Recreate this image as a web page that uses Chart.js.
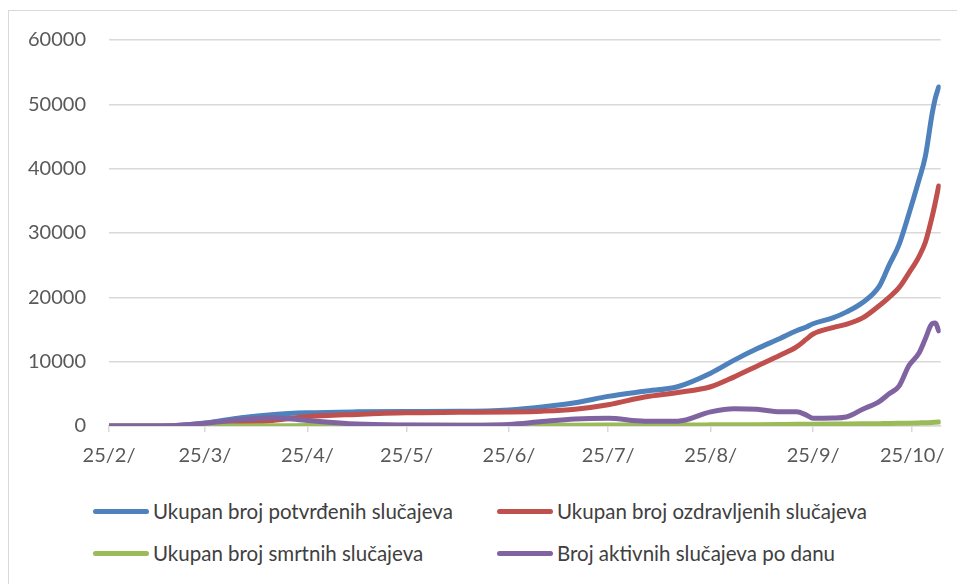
<!DOCTYPE html>
<html>
<head>
<meta charset="utf-8">
<script src="https://cdn.jsdelivr.net/npm/chart.js@4/dist/chart.umd.min.js"></script>
<style>
  body { margin: 0; background: #fff; width: 957px; height: 584px; overflow: hidden; position: relative; font-family: Lato, "Liberation Sans", sans-serif; }
  #frame { position: absolute; left: 8px; top: 10px; width: 960px; height: 600px; border: 1px solid #d9d9d9; }
  #chart { position: absolute; left: 0; top: 0; }
  .legend-item { position: absolute; display: flex; align-items: center; font-size: 20.5px; color: #404040; white-space: nowrap; }
  .legend-item span.swatch { display: inline-block; width: 56px; height: 5px; border-radius: 3px; margin-right: 4px; }
</style>
</head>
<body>
<div id="frame"></div>
<canvas id="chart" width="957" height="480"></canvas>
<div id="legend"></div>
<script>
// sample dates (2020) and values
const dates = [
  "2020-02-25", "2020-03-05", "2020-03-15", "2020-03-25", "2020-04-05", "2020-04-15",
  "2020-04-25", "2020-05-10", "2020-05-25", "2020-06-10", "2020-06-25", "2020-07-05",
  "2020-07-15", "2020-07-25", "2020-08-05", "2020-08-15", "2020-08-25", "2020-09-01",
  "2020-09-08", "2020-09-15", "2020-09-20", "2020-09-23", "2020-09-25", "2020-10-01",
  "2020-10-05", "2020-10-10", "2020-10-15", "2020-10-18", "2020-10-21", "2020-10-24",
  "2020-10-27", "2020-10-29", "2020-10-31", "2020-11-01", "2020-11-02"
];
const confirmed = [
  0, 5, 50, 450, 1300, 1800, 2050, 2200, 2250, 2280, 2500, 2950,
  3600, 4600, 5400, 6100, 8200, 10200, 12000, 13600, 14800, 15400, 15900, 16800,
  17700, 19200, 21700, 25000, 28200, 33000, 38200, 42000, 48500, 51000, 52700
];
const recovered = [
  0, 0, 0, 30, 350, 900, 1450, 1800, 2050, 2120, 2180, 2300,
  2600, 3300, 4500, 5200, 6100, 7600, 9300, 11000, 12300, 13500, 14300, 15300,
  15800, 16800, 18700, 20000, 21500, 23800, 26300, 28600, 32500, 34800, 37300
];
const deaths = [
  0, 0, 0, 3, 15, 40, 60, 90, 100, 105, 107, 112,
  120, 140, 160, 170, 175, 190, 210, 240, 265, 275, 280, 300,
  315, 335, 365, 385, 410, 440, 480, 510, 560, 590, 620
];
const active = [
  0, 5, 50, 420, 1000, 1300, 850, 300, 150, 120, 250, 700,
  1100, 1200, 750, 750, 2200, 2700, 2600, 2200, 2200, 1700, 1200, 1250,
  1400, 2600, 3800, 5000, 6200, 9400, 11300, 13600, 15900, 16000, 14800
];
const seriesNames = [
  "Ukupan broj potvrđenih slučajeva",
  "Ukupan broj ozdravljenih slučajeva",
  "Ukupan broj smrtnih slučajeva",
  "Broj aktivnih slučajeva po danu"
];
const seriesColors = ["#4F81BD", "#C0504D", "#9BBB59", "#8064A2"];
const tickDates = [
  "2020-02-25", "2020-03-25", "2020-04-25", "2020-05-25", "2020-06-25",
  "2020-07-25", "2020-08-25", "2020-09-25", "2020-10-25"
];
const tickLabels = ["25/2/", "25/3/", "25/4/", "25/5/", "25/6/", "25/7/", "25/8/", "25/9/", "25/10/"];

const day0 = Date.parse(dates[0]);
const toDay = (d) => Math.round((Date.parse(d) - day0) / 86400000);
const days = dates.map(toDay);
const tickDays = tickDates.map(toDay);

function makeSet(i, values) {
  return {
    label: seriesNames[i],
    data: values.map((v, k) => ({ x: days[k], y: v })),
    borderColor: seriesColors[i],
    backgroundColor: seriesColors[i],
    borderWidth: 5,
    borderCapStyle: "round",
    borderJoinStyle: "round",
    pointRadius: 0,
    cubicInterpolationMode: "monotone",
    order: 4 - i,
  };
}

const chart = new Chart(document.getElementById("chart").getContext("2d"), {
  type: "line",
  data: {
    datasets: [
      makeSet(0, confirmed),
      makeSet(1, recovered),
      makeSet(2, deaths),
      makeSet(3, active),
    ],
  },
  options: {
    responsive: false,
    animation: false,
    layout: { padding: { top: 40, right: 15, bottom: 0, left: 0 } },
    plugins: { legend: { display: false }, tooltip: { enabled: false } },
    scales: {
      x: {
        type: "linear",
        min: 0,
        max: days[days.length - 1] + 0.6,
        afterBuildTicks: (axis) => {
          axis.ticks = tickDays.map((v) => ({ value: v }));
        },
        afterFit: (scale) => { scale.height = 54; },
        ticks: {
          autoSkip: false,
          maxRotation: 0,
          padding: 12,
          color: "#595959",
          font: { family: "Lato", size: 20 },
          callback: (v) => tickLabels[tickDays.indexOf(v)],
        },
        grid: { drawOnChartArea: false, drawTicks: true, tickLength: 6, color: "#d9d9d9", lineWidth: 1.5 },
        border: { display: true, color: "#d9d9d9", width: 1.5 },
      },
      y: {
        min: 0,
        max: 60000,
        afterFit: (scale) => { scale.width = 109; },
        ticks: {
          stepSize: 10000,
          padding: 23,
          color: "#595959",
          font: { family: "Lato", size: 20 },
          callback: (v) => String(v),
        },
        grid: { drawTicks: false, color: "#d9d9d9", lineWidth: 1.5 },
        border: { display: false },
      },
    },
  },
});

// legend built from the chart's datasets, two columns
const legendPos = [[93, 511], [497, 511], [93, 553], [497, 553]];
const legend = document.getElementById("legend");
chart.data.datasets.forEach((ds, i) => {
  const item = document.createElement("div");
  item.className = "legend-item";
  item.style.left = legendPos[i][0] + "px";
  item.style.top = legendPos[i][1] - 13 + "px";
  item.style.height = "26px";
  const sw = document.createElement("span");
  sw.className = "swatch";
  sw.style.background = ds.borderColor;
  item.appendChild(sw);
  item.appendChild(document.createTextNode(ds.label));
  legend.appendChild(item);
});
</script>
</body>
</html>
